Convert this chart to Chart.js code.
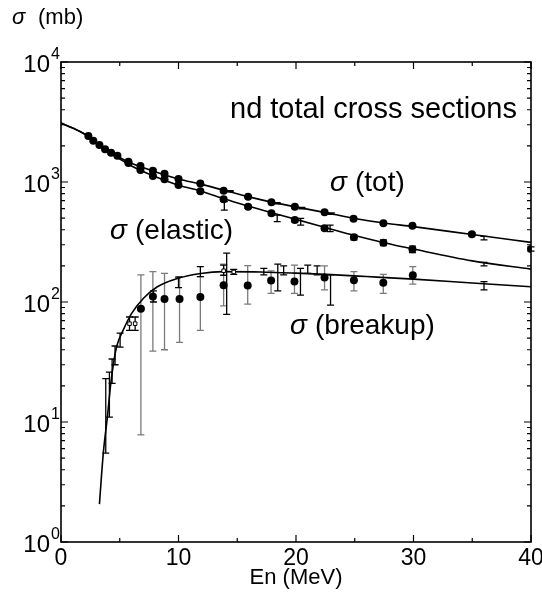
<!DOCTYPE html>
<html><head><meta charset="utf-8">
<script src="https://cdn.jsdelivr.net/npm/chart.js@4/dist/chart.umd.min.js"></script>
<style>html,body{margin:0;padding:0;background:#fff}canvas{display:block}</style>
</head><body><canvas id="c" width="542" height="595"></canvas>
<script>
// ---------- data ----------
const xTicks = [0, 10, 20, 30, 40];
const xMinorTicks = [5, 15, 25, 35];
const yExponents = [0, 1, 2, 3, 4];

// calculated curves
const curveE = [0, 1, 2, 3, 4, 5, 6, 8, 10, 12, 14, 16, 18, 20, 22.5, 25, 27.5, 30, 35, 40];
const totCurve = [3100, 2820, 2510, 2130, 1820, 1600, 1430, 1220, 1060, 955, 845, 752, 676, 620, 556, 497, 455, 425, 365, 314];
const elasticCurve = [3100, 2820, 2510, 2125, 1795, 1555, 1360, 1110, 940, 835, 718, 628, 552, 488, 418, 358, 312, 276, 220, 188];
const breakupCurveE = [3.27, 3.6, 3.95, 4.24, 4.5, 4.75, 5.3, 6.0, 7.0, 8.2, 9.9, 11.9, 13.8, 17, 20, 23, 26, 30, 35, 40];
const breakupCurve = [2.07, 5.5, 11.1, 21.1, 32.2, 43, 58.5, 80, 107, 134, 157, 173, 179, 178, 174, 169, 163, 155, 144, 134];

// measured total cross sections (filled circles)
const totE  = [2.33, 2.75, 3.27, 3.75, 4.26, 4.8, 5.74, 6.76, 7.82, 8.81, 10.0, 11.86, 13.84, 15.92, 17.91, 19.9, 22.43, 24.9, 27.44, 29.91, 34.97, 40.0];
const totS  = [2417, 2208, 2034, 1874, 1754, 1656, 1476, 1359, 1242, 1170, 1059, 970, 847, 754, 678, 622, 559, 495, 453, 432, 367, 276];
const totLo = [2380, 2170, 2000, 1840, 1720, 1625, 1450, 1335, 1220, 1150, 1040, 952, 832, 740, 666, 611, 549, 486, 444, 424, 358, 265];
const totHi = [2455, 2245, 2070, 1910, 1790, 1690, 1505, 1385, 1265, 1192, 1080, 990, 863, 768, 692, 634, 570, 505, 463, 442, 376, 288];

// measured elastic cross sections (filled circles)
const elE  = [5.74, 6.76, 7.82, 8.81, 10.0, 11.86, 13.84, 15.92, 17.91, 19.9, 22.43, 24.93, 27.44, 29.91];
const elS  = [1440, 1259, 1122, 1052, 944, 838, 718, 622, 548, 482, 411, 346, 312, 275];
const elLo = [1410, 1232, 1098, 1030, 924, 818, 690, 604, 532, 466, 396, 330, 295, 258];
const elHi = [1470, 1286, 1146, 1075, 965, 858, 745, 640, 565, 498, 428, 362, 330, 292];

// other total / elastic data (error bars only)
const otherE  = [14.4, 18.4, 20.5, 23.0, 36.0, 13.9, 18.4, 20.4, 22.9, 36.0];
const otherS  = [838, 666, 605, 546, 340, 634, 498, 466, 410, 206];
const otherLo = [828, 658, 597, 538, 330, 584, 467, 437, 386, 200];
const otherHi = [848, 674, 613, 554, 352, 685, 530, 497, 437, 214];

// measured breakup cross sections (filled circles, grey error bars)
const buE  = [6.8, 7.82, 8.81, 10.09, 11.86, 13.84, 15.89, 17.88, 19.87, 22.43, 24.93, 27.43, 29.94];
const buS  = [88, 111, 106, 106, 110, 138, 137, 151, 148, 160, 152, 145, 167];
const buLo = [7.8, 39, 40, 46, 58, 93, 96, 118, 118, 126, 124, 118, 141];
const buHi = [168, 179, 173, 163, 163, 207, 201, 182, 203, 200, 179, 170, 197];

// other breakup data (black error bars, small open squares)
const bqE  = [5.83, 6.31, 13.84, 14.7];
const bqS  = [66, 66, 182, 178];
const bqLo = [58, 58, 167, 170];
const bqHi = [75, 75, 203, 187];

// other breakup data (black error bars only)
const bbE  = [3.81, 4.12, 4.35, 4.6, 5.03, 7.87, 10.0, 11.86, 14.1, 17.26, 18.45, 18.95, 20.38, 21.0, 21.8, 22.94, 36.0];
const bbS  = [11, 17, 27, 36, 48, 111, 146, 179, 175, 179, 165, 183, 150, 187, 183, 126, 137];
const bbLo = [5.5, 11, 21, 30, 42, 100, 132, 163, 79, 168, 124, 168, 114, 173, 168, 94, 126];
const bbHi = [23, 26, 33.5, 43, 55, 124, 161, 197, 255, 191, 207, 200, 191, 203, 200, 168, 148];

// ---------- helpers ----------
const pts = (xs, ys) => xs.map((x, i) => ({x: x, y: ys[i]}));
const FONT = '"Liberation Sans", Arial, Helvetica, sans-serif';

const errorBars = {
  id: 'errorBars',
  beforeDatasetsDraw(chart) {
    const ctx = chart.ctx, xs = chart.scales.x, ys = chart.scales.y;
    chart.data.datasets.forEach((ds, di) => {
      if (!ds.errLo || !chart.isDatasetVisible(di)) return;
      ctx.save();
      ctx.strokeStyle = ds.errColor || '#000';
      ctx.lineWidth = 1.3;
      ds.data.forEach((p, i) => {
        const x = xs.getPixelForValue(p.x);
        const y1 = ys.getPixelForValue(ds.errLo[i]);
        const y2 = ys.getPixelForValue(ds.errHi[i]);
        const w = 3.5;
        ctx.beginPath();
        ctx.moveTo(x, y1); ctx.lineTo(x, y2);
        ctx.moveTo(x - w, y1); ctx.lineTo(x + w, y1);
        ctx.moveTo(x - w, y2); ctx.lineTo(x + w, y2);
        ctx.stroke();
      });
      ctx.restore();
    });
  }
};

const frame = {
  id: 'frame',
  afterDraw(chart) {
    const ctx = chart.ctx, xs = chart.scales.x, ys = chart.scales.y;
    const a = chart.chartArea;
    ctx.save();
    ctx.strokeStyle = '#000';
    ctx.lineWidth = 1.6;
    ctx.strokeRect(a.left, a.top, a.right - a.left, a.bottom - a.top);
    ctx.lineWidth = 1.2;
    ctx.beginPath();
    xTicks.forEach(v => {
      const x = xs.getPixelForValue(v);
      ctx.moveTo(x, a.bottom); ctx.lineTo(x, a.bottom - 7);
      ctx.moveTo(x, a.top); ctx.lineTo(x, a.top + 7);
    });
    xMinorTicks.forEach(v => {
      const x = xs.getPixelForValue(v);
      ctx.moveTo(x, a.bottom); ctx.lineTo(x, a.bottom - 4);
      ctx.moveTo(x, a.top); ctx.lineTo(x, a.top + 4);
    });
    yExponents.forEach((e, k) => {
      const y = ys.getPixelForValue(Math.pow(10, e));
      ctx.moveTo(a.left, y); ctx.lineTo(a.left + 7, y);
      ctx.moveTo(a.right, y); ctx.lineTo(a.right - 7, y);
      if (k < yExponents.length - 1) {
        for (let m = 2; m <= 9; m++) {
          const ym = ys.getPixelForValue(m * Math.pow(10, e));
          ctx.moveTo(a.left, ym); ctx.lineTo(a.left + 4, ym);
          ctx.moveTo(a.right, ym); ctx.lineTo(a.right - 4, ym);
        }
      }
    });
    ctx.stroke();

    ctx.fillStyle = '#000';
    // x tick labels
    ctx.font = '23px ' + FONT;
    ctx.textAlign = 'center'; ctx.textBaseline = 'top';
    xTicks.forEach(v => ctx.fillText(String(v), xs.getPixelForValue(v), a.bottom + 5));
    // y tick labels 10^n
    yExponents.forEach(e => {
      const y = ys.getPixelForValue(Math.pow(10, e));
      ctx.font = '24px ' + FONT;
      ctx.textAlign = 'right'; ctx.textBaseline = 'middle';
      ctx.fillText('10', a.left - 11, y + 3);
      ctx.font = '16px ' + FONT;
      ctx.textAlign = 'left';
      ctx.fillText(String(e), a.left - 10, y - 7);
    });
    // axis titles
    ctx.font = '22px ' + FONT;
    ctx.textAlign = 'center'; ctx.textBaseline = 'middle';
    ctx.fillText('En (MeV)', (a.left + a.right) / 2, 578);
    ctx.textAlign = 'left';
    ctx.font = 'italic 22px ' + FONT;
    ctx.fillText('σ', 12, 18);
    ctx.font = '22px ' + FONT;
    ctx.fillText('(mb)', 38, 18);
    // annotations
    ctx.font = '29px ' + FONT;
    ctx.fillText('nd total cross sections', 230, 110);
    const lab = (x, y, t) => {
      ctx.font = 'italic 28px ' + FONT;
      ctx.fillText('σ', x, y);
      ctx.font = '28px ' + FONT;
      ctx.fillText(t, x + 25, y);
    };
    lab(330, 183, '(tot)');
    lab(110, 231, '(elastic)');
    lab(290, 326, '(breakup)');
    ctx.restore();
  }
};

const curveStyle = {type: 'line', borderColor: '#000', borderWidth: 1.6, pointRadius: 0, fill: false, cubicInterpolationMode: 'monotone'};
const dotStyle = {type: 'scatter', pointRadius: 4, pointBackgroundColor: '#000', pointBorderColor: '#000', pointBorderWidth: 0, showLine: false};

new Chart(document.getElementById('c'), {
  data: {
    datasets: [
      Object.assign({label: 'tot dots', data: pts(totE, totS), errLo: totLo, errHi: totHi}, dotStyle),
      Object.assign({label: 'elastic dots', data: pts(elE, elS), errLo: elLo, errHi: elHi}, dotStyle),
      Object.assign({label: 'breakup dots', data: pts(buE, buS), errLo: buLo, errHi: buHi, errColor: '#7a7a7a'}, dotStyle),
      {type: 'scatter', label: 'other tot/el', data: pts(otherE, otherS), errLo: otherLo, errHi: otherHi, pointRadius: 0, showLine: false},
      {type: 'scatter', label: 'other breakup sq', data: pts(bqE, bqS), errLo: bqLo, errHi: bqHi, pointStyle: 'rect', pointRadius: 2.5, pointBackgroundColor: '#fff', pointBorderColor: '#000', pointBorderWidth: 1, showLine: false},
      {type: 'scatter', label: 'other breakup', data: pts(bbE, bbS), errLo: bbLo, errHi: bbHi, pointRadius: 0, showLine: false},
      Object.assign({label: 'tot curve', data: pts(curveE, totCurve)}, curveStyle),
      Object.assign({label: 'elastic curve', data: pts(curveE, elasticCurve)}, curveStyle),
      Object.assign({label: 'breakup curve', data: pts(breakupCurveE, breakupCurve)}, curveStyle)
    ]
  },
  options: {
    responsive: false,
    animation: false,
    devicePixelRatio: 1,
    layout: {padding: {left: 61, right: 11, top: 62, bottom: 53}},
    plugins: {legend: {display: false}, tooltip: {enabled: false}},
    scales: {
      x: {type: 'linear', min: 0, max: 40, display: false},
      y: {type: 'logarithmic', min: 1, max: 10000, display: false}
    }
  },
  plugins: [errorBars, frame]
});
</script>
</body></html>
